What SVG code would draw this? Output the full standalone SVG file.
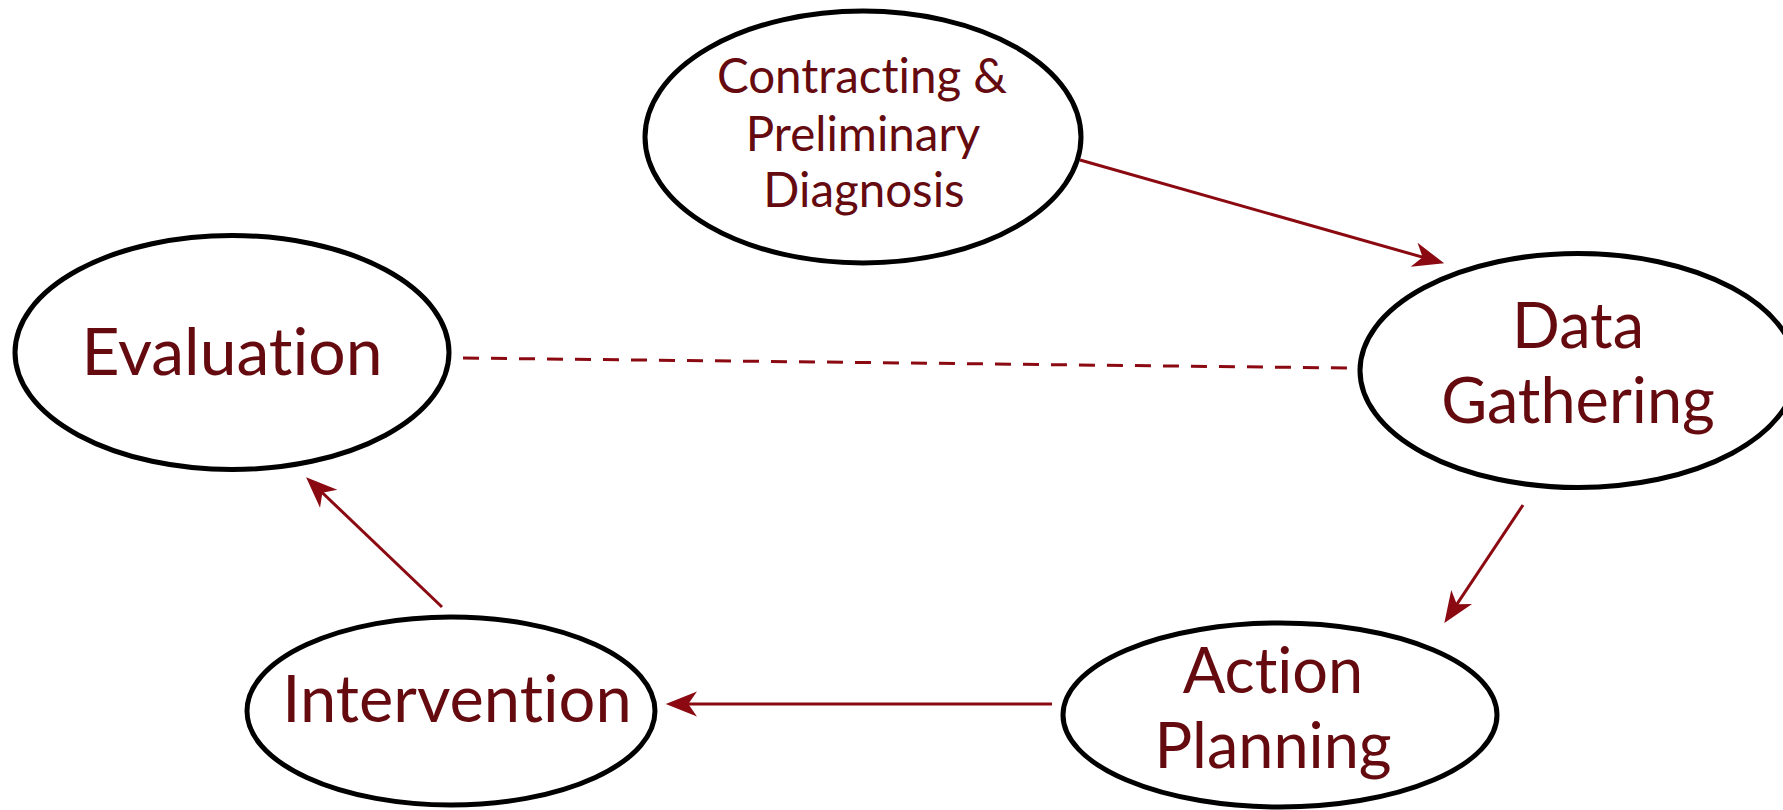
<svg xmlns="http://www.w3.org/2000/svg" width="1783" height="810" viewBox="0 0 1783 810">
<style>
.node ellipse{fill:#fff;stroke:#000;stroke-width:5}
.node text{font-family:Lato,"Liberation Sans",sans-serif;fill:#650a0f;text-anchor:middle;font-variant-ligatures:none;font-feature-settings:"liga" 0,"clig" 0}
.conn line{stroke:#8b0a12;stroke-width:3;fill:none}
.dash{stroke-dasharray:16 12}
</style>
<defs>
<marker id="ah" markerUnits="userSpaceOnUse" markerWidth="40" markerHeight="30" viewBox="-25 -12 32 24" refX="0" refY="0" orient="auto">
<path d="M5,0 L-20,-10 L-13,0 L-20,10 Z" fill="#8b0a12"/>
</marker>
</defs>
<rect width="1783" height="810" fill="#fff"/>
<g id="connectors" class="conn">
<line x1="1080" y1="160" x2="1438.2" y2="261.6" marker-end="url(#ah)"/>
<line x1="1523" y1="505" x2="1447.8" y2="617.8" marker-end="url(#ah)"/>
<line x1="1052" y1="704" x2="672" y2="704" marker-end="url(#ah)"/>
<line x1="442" y1="607" x2="310.6" y2="481.5" marker-end="url(#ah)"/>
<line class="dash" x1="463" y1="358" x2="1349" y2="368"/>
</g>
<g id="contracting" class="node">
<ellipse cx="863" cy="137" rx="218" ry="126"/>
<text font-size="47.5" x="862" y="93">Contracting &amp;</text>
<text font-size="47.5" x="863" y="151">Preliminary</text>
<text font-size="47.5" x="864" y="207">Diagnosis</text>
</g>
<g id="data-gathering" class="node">
<ellipse cx="1578" cy="370.5" rx="218" ry="117"/>
<text font-size="63" x="1578" y="348">Data</text>
<text font-size="63" x="1578" y="423">Gathering</text>
</g>
<g id="evaluation" class="node">
<ellipse cx="232" cy="352.5" rx="217" ry="117"/>
<text font-size="66" x="232" y="375">Evaluation</text>
</g>
<g id="action-planning" class="node">
<ellipse cx="1280" cy="715" rx="217" ry="92"/>
<text font-size="63" x="1273" y="693">Action</text>
<text font-size="63" x="1273" y="768">Planning</text>
</g>
<g id="intervention" class="node">
<ellipse cx="451" cy="711" rx="204" ry="94"/>
<text font-size="65" x="457" y="722">Intervention</text>
</g>
</svg>
